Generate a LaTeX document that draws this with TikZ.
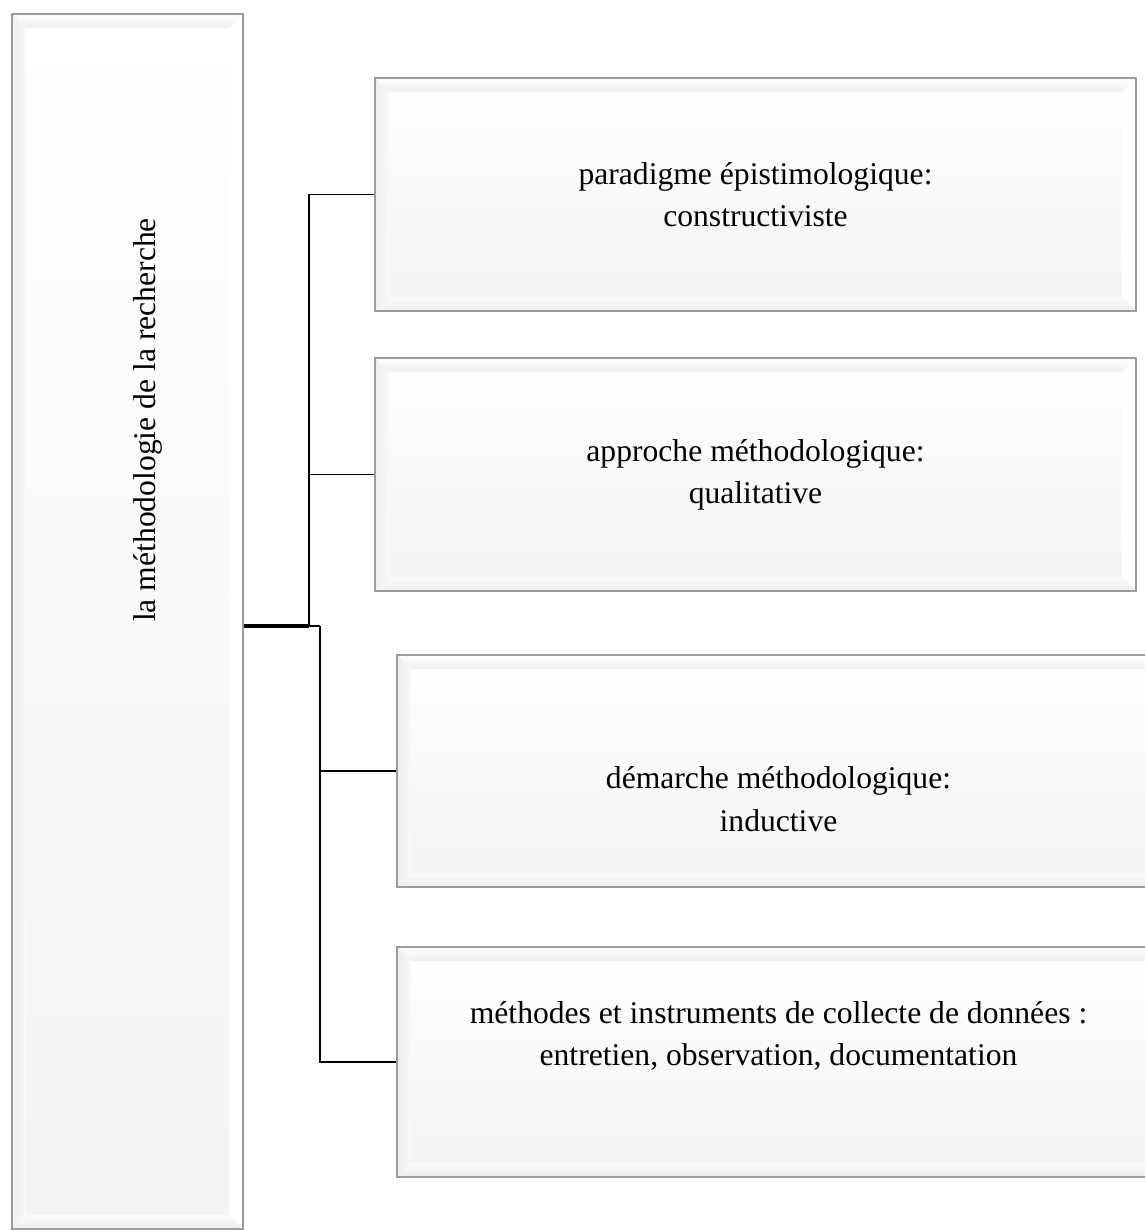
\documentclass[tikz,border=0pt]{standalone}
\usepackage{fontspec}
\setmainfont{Liberation Serif}
\usetikzlibrary{positioning,calc}
\definecolor{rim}{HTML}{9C9C9C}

\begin{document}
\begin{tikzpicture}[x=.02cm,y=-.02cm,line width=1pt,every node/.style={font=\fontsize{18}{24}\selectfont},
bevel/.style={draw=rim,line width=1.1pt,top color=white,bottom color=gray!9,inner sep=0pt,align=center,text=black,
 path picture={
  \coordinate (nw) at (path picture bounding box.north west);
  \coordinate (ne) at (path picture bounding box.north east);
  \coordinate (sw) at (path picture bounding box.south west);
  \coordinate (se) at (path picture bounding box.south east);
  \shade[top color=white,bottom color=gray!12] (nw)--(ne)--([shift={(-8pt,-8pt)}]ne)--([shift={(8pt,-8pt)}]nw)--cycle;
  \shade[left color=gray!14,right color=gray!4] (nw)--([shift={(8pt,-8pt)}]nw)--([shift={(8pt,8pt)}]sw)--(sw)--cycle;
  \fill[white] (ne)--(se)--([shift={(-8pt,8pt)}]se)--([shift={(-8pt,-8pt)}]ne)--cycle;
  \shade[top color=gray!3,bottom color=gray!14] (sw)--([shift={(8pt,8pt)}]sw)--([shift={(-8pt,8pt)}]se)--(se)--cycle;
 }},
label/.style={align=center,text=black},
link/.style={draw=black,line width=1.1pt},
trunk/.style={draw=black,line width=2.2pt}]
\clip (0,0) rectangle (1145,1231);

% boxes
\node[bevel,minimum width=4.62cm,minimum height=24.3cm] (root) at (127.5,621.5) {};
\node[bevel,minimum width=15.22cm,minimum height=4.66cm] (b1) at (755.5,194.5) {paradigme épistimologique:\\constructiviste};
\node[bevel,minimum width=15.22cm,minimum height=4.66cm] (b2) at (755.5,474.5) {approche méthodologique:\\qualitative};
\node[bevel,minimum width=15.26cm,minimum height=4.64cm] (b3) at (778.5,771) {};
\node[bevel,minimum width=15.26cm,minimum height=4.6cm] (b4) at (778.5,1062) {};

% texts
\node[label,rotate=90] (t0) at (148,420) {la méthodologie de la recherche};
\node[label,yshift=-16pt] (t3) at (b3) {démarche méthodologique:\\inductive};
\node[label,yshift=15pt] (t4) at (b4) {méthodes et instruments de collecte de données :\\entretien, observation, documentation};

% connectors
\coordinate (j1) at (309,626);
\coordinate (j2) at (320,626);
\draw[link] (j1) |- (b1.west);
\draw[link] (j1) |- (b2.west);
\draw[link] (j2) |- (b3.west);
\draw[link] (j2) |- (b4.west);
\draw[trunk] (root.east |- j1) -- (j1);
\draw[link] (j1) -- (j2);
\end{tikzpicture}
\end{document}
